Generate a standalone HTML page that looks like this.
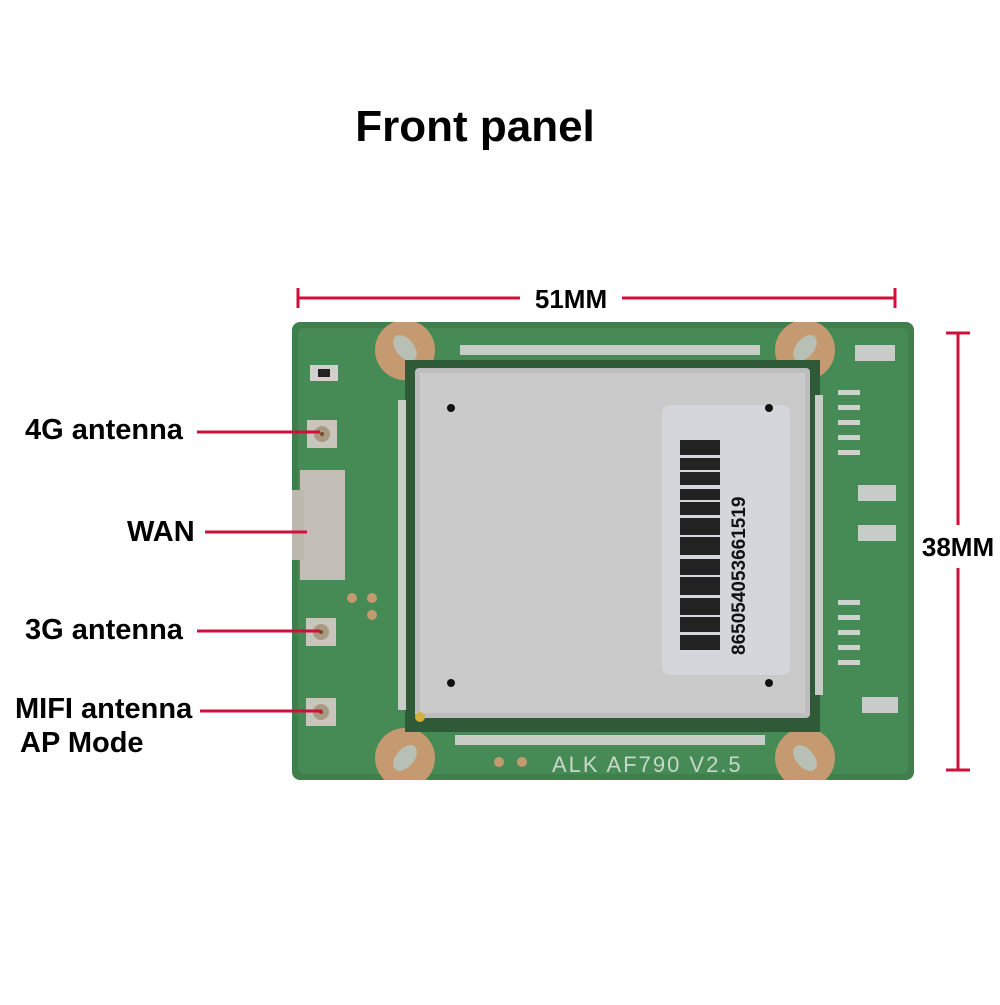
<!DOCTYPE html>
<html><head><style>
body{margin:0;background:#fff;width:1000px;height:1000px;overflow:hidden}
svg text{font-family:"Liberation Sans",sans-serif;font-weight:bold}
</style></head><body>
<svg width="1000" height="1000" viewBox="0 0 1000 1000" xmlns="http://www.w3.org/2000/svg">
<defs><clipPath id="b"><rect x="292" y="322" width="622" height="458" rx="8"/></clipPath></defs>
<text x="475" y="141" font-size="44" text-anchor="middle" fill="#000">Front panel</text>
<!-- dims -->
<g stroke="#d0103a" stroke-width="3">
<line x1="298" y1="298" x2="520" y2="298"/><line x1="622" y1="298" x2="895" y2="298"/>
<line x1="298" y1="288" x2="298" y2="308"/><line x1="895" y1="288" x2="895" y2="308"/>
<line x1="958" y1="333" x2="958" y2="525"/><line x1="958" y1="568" x2="958" y2="770"/>
<line x1="946" y1="333" x2="970" y2="333"/><line x1="946" y1="770" x2="970" y2="770"/>
</g>
<text x="571" y="308" font-size="26" text-anchor="middle">51MM</text>
<text x="958" y="556" font-size="26" text-anchor="middle">38MM</text>
<!-- board -->
<rect x="292" y="322" width="622" height="458" rx="8" fill="#3f7f4c"/>
<rect x="298" y="328" width="610" height="446" rx="6" fill="#468a55"/>
<g clip-path="url(#b)">
<g fill="#c59a70"><circle cx="405" cy="350" r="30"/><circle cx="805" cy="350" r="30"/><circle cx="405" cy="758" r="30"/><circle cx="805" cy="758" r="30"/></g>
<g fill="#b8c0b5"><ellipse cx="405" cy="348" rx="9" ry="15" transform="rotate(-40 405 348)"/><ellipse cx="805" cy="348" rx="9" ry="15" transform="rotate(40 805 348)"/><ellipse cx="405" cy="758" rx="9" ry="15" transform="rotate(40 405 758)"/><ellipse cx="805" cy="758" rx="9" ry="15" transform="rotate(-40 805 758)"/></g>
</g>
<!-- module -->
<rect x="405" y="360" width="415" height="372" fill="#2f5a38"/>
<g fill="#c7ccc6">
<rect x="460" y="345" width="300" height="10"/>
<rect x="455" y="735" width="310" height="10"/>
<rect x="398" y="400" width="8" height="310"/>
<rect x="815" y="395" width="8" height="300"/>
</g>
<rect x="415" y="368" width="395" height="350" rx="4" fill="#bcbdbc"/>
<rect x="420" y="373" width="385" height="340" fill="#c9cac9"/>
<rect x="662" y="405" width="128" height="270" rx="8" fill="#d4d6dc"/>
<rect x="680" y="440" width="40" height="210" fill="#222"/>
<g fill="#d4d6dc">
<rect x="680" y="455" width="40" height="3"/><rect x="680" y="470" width="40" height="2"/><rect x="680" y="485" width="40" height="4"/><rect x="680" y="500" width="40" height="2"/><rect x="680" y="515" width="40" height="3"/><rect x="680" y="535" width="40" height="2"/><rect x="680" y="555" width="40" height="4"/><rect x="680" y="575" width="40" height="2"/><rect x="680" y="595" width="40" height="3"/><rect x="680" y="615" width="40" height="2"/><rect x="680" y="632" width="40" height="3"/>
</g>
<text transform="translate(745 655) rotate(-90)" font-size="19" fill="#111">865054053661519</text>
<g fill="#111"><circle cx="451" cy="408" r="4"/><circle cx="769" cy="408" r="4"/><circle cx="451" cy="683" r="4"/><circle cx="769" cy="683" r="4"/></g>
<circle cx="420" cy="717" r="5" fill="#d4b040"/>
<g fill="#c8ccc8"><rect x="855" y="345" width="40" height="16"/><rect x="858" y="485" width="38" height="16"/><rect x="858" y="525" width="38" height="16"/><rect x="862" y="697" width="36" height="16"/></g>
<g fill="#cdd2cc"><rect x="838" y="390" width="22" height="5"/><rect x="838" y="405" width="22" height="5"/><rect x="838" y="420" width="22" height="5"/><rect x="838" y="435" width="22" height="5"/><rect x="838" y="450" width="22" height="5"/><rect x="838" y="600" width="22" height="5"/><rect x="838" y="615" width="22" height="5"/><rect x="838" y="630" width="22" height="5"/><rect x="838" y="645" width="22" height="5"/><rect x="838" y="660" width="22" height="5"/></g>
<rect x="307" y="420" width="30" height="28" fill="#c9c4bc"/><circle cx="322" cy="434" r="8" fill="#a89a80"/><circle cx="322" cy="434" r="2" fill="#7a4a30"/>
<rect x="300" y="470" width="45" height="110" fill="#c4bfb6"/><rect x="292" y="490" width="12" height="70" fill="#bdb8ae"/>
<rect x="306" y="618" width="30" height="28" fill="#c9c4bc"/><circle cx="321" cy="632" r="8" fill="#a89a80"/><circle cx="321" cy="632" r="2" fill="#7a4a30"/>
<rect x="306" y="698" width="30" height="28" fill="#c9c4bc"/><circle cx="321" cy="712" r="8" fill="#a89a80"/><circle cx="321" cy="712" r="2" fill="#7a4a30"/>
<rect x="310" y="365" width="28" height="16" fill="#d0d0cc"/><rect x="318" y="369" width="12" height="8" fill="#222"/>
<g fill="#c59a70"><circle cx="352" cy="598" r="5"/><circle cx="372" cy="598" r="5"/><circle cx="372" cy="615" r="5"/><circle cx="499" cy="762" r="5"/><circle cx="522" cy="762" r="5"/></g>
<text x="552" y="772" font-size="22" fill="#c8d8c8" style="font-weight:normal" letter-spacing="2">ALK  AF790  V2.5</text>
<g stroke="#d0103a" stroke-width="3">
<line x1="197" y1="432" x2="320" y2="432"/>
<line x1="205" y1="532" x2="307" y2="532"/>
<line x1="197" y1="631" x2="320" y2="631"/>
<line x1="200" y1="711" x2="322" y2="711"/>
</g>
<g font-size="29" fill="#000">
<text x="25" y="439">4G antenna</text>
<text x="127" y="541">WAN</text>
<text x="25" y="639">3G antenna</text>
<text x="15" y="718">MIFI antenna</text>
<text x="20" y="752">AP Mode</text>
</g>
</svg>
</body></html>
